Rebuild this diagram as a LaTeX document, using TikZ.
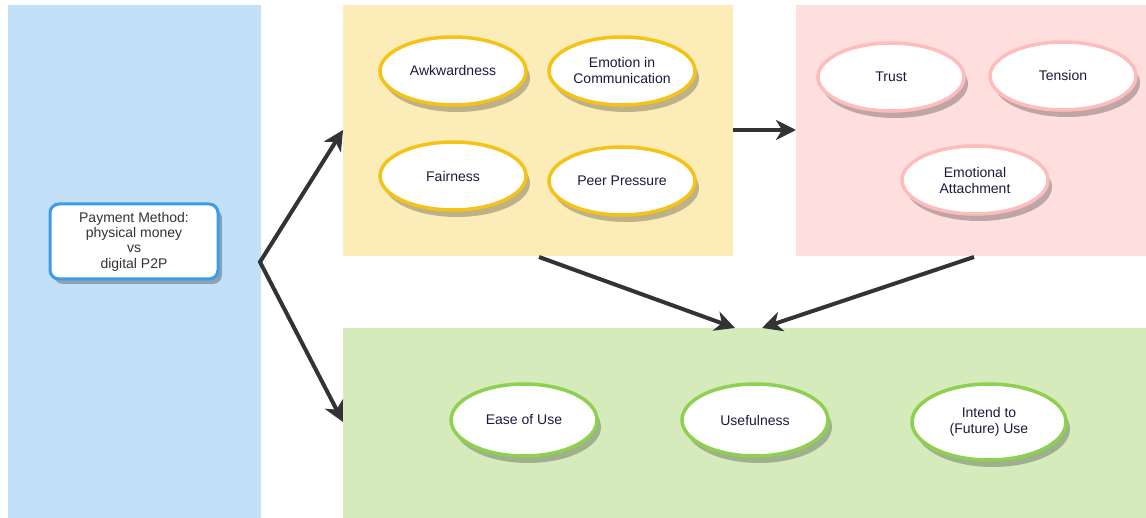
\documentclass[tikz,border=0pt]{standalone}
\usepackage{fontspec}
\setmainfont{Liberation Sans}
\usetikzlibrary{arrows.meta,shadows,shapes.geometric}
\definecolor{bluebg}{HTML}{C2E1F8}
\definecolor{yellowbg}{HTML}{FCEDB8}
\definecolor{pinkbg}{HTML}{FFDEDE}
\definecolor{greenbg}{HTML}{D5EBBC}
\definecolor{bluebd}{HTML}{3C9BEA}
\definecolor{yellowbd}{HTML}{F5C218}
\definecolor{pinkbd}{HTML}{FFBCBC}
\definecolor{greenbd}{HTML}{8ED050}
\definecolor{txt}{HTML}{1A1A40}
\definecolor{arr}{HTML}{333333}
\tikzset{
  oval/.style={ellipse, draw=#1, fill=white, line width=3.5pt, minimum width=146pt, minimum height=68pt,
     inner sep=0pt, align=center, text=txt, font=\fontsize{14}{16}\selectfont,
     drop shadow={shadow xshift=4pt, shadow yshift=-7pt, fill=black, opacity=0.25}},
  tip/.style={Stealth[length=20pt,width=20pt,inset=6pt]},
  conn/.style={draw=arr, line width=4pt, -{Stealth[length=20pt,width=20pt,inset=6pt]}},
}
\begin{document}
\begin{tikzpicture}[x=1pt,y=-1pt]
\useasboundingbox (0,0) rectangle (1146,518);
\fill[white] (0,0) rectangle (1146,518);
% panels
\fill[bluebg] (8,5) rectangle (261,518);
\fill[yellowbg] (343,5) rectangle (733,256);
\fill[pinkbg] (796,5) rectangle (1146,256);
\fill[greenbg] (343,328) rectangle (1146,518);
\coordinate (yb) at (733,130);
\coordinate (pl) at (796,130);
% payment box
\node[draw=bluebd, fill=white, line width=3pt, rounded corners=9pt, minimum width=168pt, minimum height=75pt,
  align=center, text=arr, font=\fontsize{14}{15.3}\selectfont,
  drop shadow={shadow xshift=4pt, shadow yshift=-5pt, fill=black, opacity=0.28}] (pay) at (134,241.5)
  {Payment Method:\\physical money\\vs\\digital P2P};
% yellow ovals
\node[oval=yellowbd] (awk) at (453,71) {Awkwardness};
\node[oval=yellowbd] (emo) at (622,71) {Emotion in\\Communication};
\node[oval=yellowbd] (fair) at (453,176) {Fairness};
\node[oval=yellowbd] (peer) at (622,181) {Peer Pressure};
% pink ovals
\node[oval=pinkbd] (trust) at (891,77) {Trust};
\node[oval=pinkbd] (tens) at (1063,76) {Tension};
\node[oval=pinkbd] (att) at (975,180) {Emotional\\Attachment};
% green ovals
\node[oval=greenbd, minimum height=72pt] (ease) at (524,420) {Ease of Use};
\node[oval=greenbd, minimum height=72pt] (use) at (755,420) {Usefulness};
\node[oval=greenbd, minimum width=154pt, minimum height=76pt] (int) at (989,422) {Intend to\\(Future) Use};
% connector coordinates
\coordinate (v) at (260,262);
\coordinate (yl) at (343,130);
\coordinate (gl) at (343,422);
\coordinate (ybot) at (539,257);
\coordinate (g1) at (735,328);
\coordinate (pbot) at (974,257);
\coordinate (g2) at (762,328);
% connectors
\draw[draw=arr, line width=4pt, {Stealth[length=20pt,width=20pt,inset=6pt]}-{Stealth[length=20pt,width=20pt,inset=6pt]}, miter limit=20] (yl) -- (v) -- (gl);
\draw[conn] (yb) -- (pl);
\draw[conn] (ybot) -- (g1);
\draw[conn] (pbot) -- (g2);
\end{tikzpicture}
\end{document}
